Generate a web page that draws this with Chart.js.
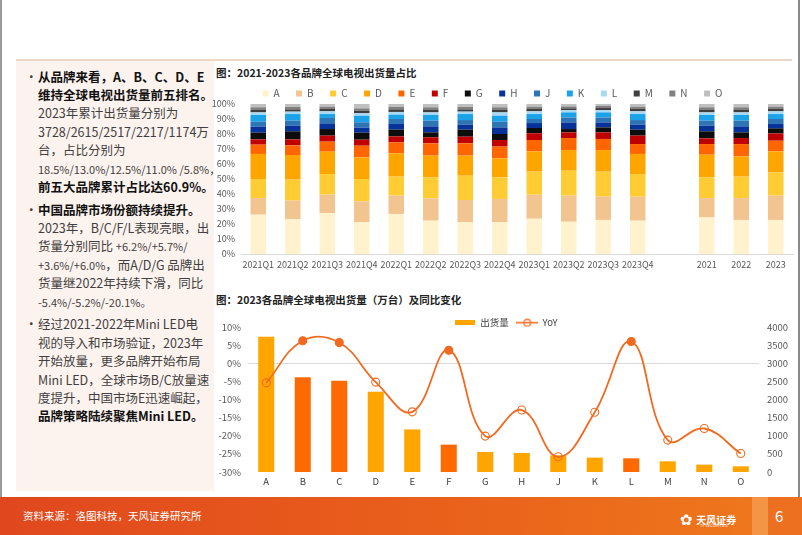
<!DOCTYPE html>
<html><head><meta charset="utf-8">
<script src="https://cdn.jsdelivr.net/npm/chart.js@4.4.1/dist/chart.umd.min.js"></script>
<style>
html,body{margin:0;padding:0;}
body{width:802px;height:535px;position:relative;overflow:hidden;background:#fff;font-family:"Noto Sans CJK SC","Noto Sans",sans-serif;}
.abs{position:absolute;}
#leftline{left:0;top:0;width:2px;height:497px;background:#9a9a9a;}
#rightline{left:798px;top:0;width:2px;height:497px;background:#8a8a8a;}
#topline{left:16px;top:59px;width:776px;height:2px;background:#EBD7C5;}
#panel{left:16px;top:61px;width:198px;height:430px;background:#FDF3EE;}
#text{left:26px;top:67.5px;width:190px;font-size:12.5px;line-height:18.4px;color:#404040;}
.item{position:relative;padding-left:12px;margin-bottom:4.3px;}
.item:before{content:"•";position:absolute;left:-1px;top:0;color:#404040;}
.ln{display:block;white-space:nowrap;}
.b{font-weight:bold;color:#111;}
.sm{font-size:11px;}
.title{font-size:10.5px;font-weight:bold;color:#222;white-space:nowrap;}
#t1{left:216px;top:65px;}
#t2{left:216px;top:292px;}
#c1wrap{left:212px;top:72px;width:588px;height:198px;}
#c2wrap{left:212px;top:310px;width:588px;height:178px;}
#footer{left:0;top:497px;width:802px;height:38px;background:linear-gradient(90deg,#E0471E 0%,#E9601B 55%,#EF7A1C 100%);}
#fblock{left:752px;top:497px;width:16px;height:38px;background:#F39545;}
#fblock2{left:768px;top:497px;width:34px;height:38px;background:#EC7020;}
#source{left:23px;top:508px;font-size:10.5px;color:#fff;white-space:nowrap;}
#logo{left:680px;top:505px;color:#fff;white-space:nowrap;}
#logo .f{font-size:15px;font-family:"DejaVu Sans";vertical-align:middle;}
#logo .n{font-size:10px;font-weight:bold;vertical-align:middle;}
#logo .s{position:absolute;left:20px;top:17px;font-size:4px;}
#page{left:775px;top:505px;color:#fff;font-size:15px;}
</style>
</head><body>
<div class="abs" id="leftline"></div>
<div class="abs" id="rightline"></div>
<div class="abs" id="topline"></div>
<div class="abs" id="panel"></div>
<div class="abs" id="text">
  <div class="item">
    <span class="ln b">从品牌来看，A、B、C、D、E</span>
    <span class="ln b">维持全球电视出货量前五排名。</span>
    <span class="ln">2023年累计出货量分别为</span>
    <span class="ln">3728/2615/2517/2217/1174万</span>
    <span class="ln">台，占比分别为</span>
    <span class="ln sm">18.5%/13.0%/12.5%/11.0% /5.8%，</span>
    <span class="ln b">前五大品牌累计占比达60.9%。</span>
  </div>
  <div class="item">
    <span class="ln b">中国品牌市场份额持续提升。</span>
    <span class="ln">2023年，B/C/F/L表现亮眼，出</span>
    <span class="ln">货量分别同比 <span class="sm">+6.2%/+5.7%/</span></span>
    <span class="ln"><span class="sm">+3.6%/+6.0%</span>，而A/D/G 品牌出</span>
    <span class="ln">货量继2022年持续下滑，同比</span>
    <span class="ln sm">-5.4%/-5.2%/-20.1%。</span>
  </div>
  <div class="item">
    <span class="ln">经过2021-2022年Mini LED电</span>
    <span class="ln">视的导入和市场验证，2023年</span>
    <span class="ln">开始放量，更多品牌开始布局</span>
    <span class="ln">Mini LED，全球市场B/C放量速</span>
    <span class="ln">度提升，中国市场E迅速崛起，</span>
    <span class="ln b">品牌策略陆续聚焦Mini LED。</span>
  </div>
</div>
<div class="abs title" id="t1">图：2021-2023各品牌全球电视出货量占比</div>
<div class="abs title" id="t2">图：2023各品牌全球电视出货量（万台）及同比变化</div>
<div class="abs" id="c1wrap"><canvas id="c1" width="588" height="198"></canvas></div>
<div class="abs" id="c2wrap"><canvas id="c2" width="588" height="178"></canvas></div>
<div class="abs" id="footer"></div>
<div class="abs" id="fblock"></div>
<div class="abs" id="fblock2"></div>
<div class="abs" id="source">资料来源：洛图科技，天风证券研究所</div>
<div class="abs" id="logo"><span class="f">✿</span> <span class="n">天风证券</span><span class="s">TF SECURITIES</span></div>
<div class="abs" id="page">6</div>
<script>
// ---------- Chart 1: brand shares (%) ----------
const periods = ['2021Q1','2021Q2','2021Q3','2021Q4','2022Q1','2022Q2','2022Q3','2022Q4','2023Q1','2023Q2','2023Q3','2023Q4','','2021','2022','2023'];
const shareBrands = ['A','B','C','D','E','F','G','H','J','K','L','M','N','O'];
const shareA = [26.2,23.3,27.3,21.3,26.7,22.2,21.1,21.1,23.5,21.5,22.7,22.2,null,24.4,22.7,22.7];
const shareB = [11.1,12.3,12.3,13.8,12.2,14.9,14.9,15.6,16.0,17.4,15.5,16.0,null,12.9,14.6,16.2];
const shareC = [12.7,14.0,13.7,14.9,12.7,14.0,16.2,14.4,15.4,16.6,16.7,15.1,null,13.8,14.3,15.5];
const shareD = [16.7,16.4,14.9,14.4,15.5,14.5,13.4,12.7,13.5,13.8,14.4,13.4,null,15.1,13.5,14.0];
const shareE = [6.2,6.4,6.7,7.8,7.3,8.2,8.2,7.8,7.6,8.0,7.4,6.6,null,7.1,8.2,7.1];
const shareF = [3.5,4.0,4.0,4.0,4.0,4.0,4.4,4.4,4.5,3.8,4.4,5.6,null,3.8,4.0,4.9];
const shareG = [4.5,5.4,4.4,4.7,4.5,3.3,4.7,4.0,3.5,2.2,3.3,4.0,null,4.7,3.8,3.4];
const shareH = [4.0,3.8,3.8,3.3,3.8,4.0,3.3,4.4,3.3,4.4,3.3,3.3,null,3.8,4.0,2.9];
const shareJ = [3.3,3.3,3.6,3.6,3.3,3.8,3.1,3.8,2.7,3.3,3.3,3.1,null,3.3,3.8,3.3];
const shareK = [4.5,4.4,2.6,4.4,2.9,3.8,4.0,4.0,3.3,3.4,3.4,4.0,null,3.8,3.8,3.3];
const shareL = [1.7,1.6,1.8,1.6,1.8,1.7,1.6,2.2,1.8,1.6,1.6,1.8,null,1.7,1.7,1.8];
const shareM = [1.6,1.5,1.6,1.8,1.7,1.6,1.5,1.6,1.6,1.1,1.3,1.6,null,1.6,1.6,1.6];
const shareN = [1.8,1.6,1.5,1.5,1.6,1.8,1.6,1.8,1.5,1.3,1.4,1.5,null,1.8,1.8,1.5];
const shareO = [2.2,2.0,1.8,2.9,2.0,2.2,2.0,2.2,1.8,1.6,1.3,1.8,null,2.2,2.2,1.8];
const shareColors = ['#FFF2CC','#F2C490','#FFCC33','#FFA500','#FF6600','#C00000','#0D0D0D','#07329A','#2E75B6','#1AA3E8','#A9D8F4','#3F3F3F','#808080','#BFBFBF'];
const shareYTicks = [0,10,20,30,40,50,60,70,80,90,100];

// ---------- Chart 2: 2023 shipments & YoY ----------
const brands2023 = ['A','B','C','D','E','F','G','H','J','K','L','M','N','O'];
const shipments = [3728,2615,2517,2217,1174,756,552,524,461,397,378,295,204,157];
const yoyPct = [-5.4,6.2,5.7,-5.2,-13.4,3.6,-20.1,-12.9,-25.8,-13.5,6.0,-21.2,-18.0,-24.9];
const chineseBrands = ['B','C','F','L'];

Chart.defaults.font.family = '"Noto Sans CJK SC","Noto Sans",sans-serif';
Chart.defaults.color = '#595959';

const shareSeries = [shareA,shareB,shareC,shareD,shareE,shareF,shareG,shareH,shareJ,shareK,shareL,shareM,shareN,shareO];

const shiftLegend = {
  id:'shiftLegend',
  afterLayout(chart, args, opts){ if (chart.legend && opts.dx) { chart.legend.left += opts.dx; } }
};

new Chart(document.getElementById('c1'), {
  type:'bar',
  data:{
    labels: periods,
    datasets: shareBrands.map((b,i)=>({label:b, data:shareSeries[i], backgroundColor:shareColors[i], borderWidth:0, barPercentage:0.45, categoryPercentage:1}))
  },
  options:{
    responsive:false, animation:false,
    layout:{padding:{left:0,right:7,top:0,bottom:0}},
    plugins:{
      legend:{position:'top', maxHeight:32, labels:{boxWidth:6, boxHeight:6, padding:16.5, font:{size:10}, color:'#595959'}},
      tooltip:{enabled:false},
      shiftLegend:{dx:-20}
    },
    scales:{
      x:{stacked:true, grid:{display:false, drawTicks:false}, border:{display:true, color:'#D9D9D9'},
         ticks:{font:{size:9}, color:'#595959', maxRotation:0, autoSkip:false, padding:5},
         afterFit:s=>{s.height=16;}},
      y:{stacked:true, min:0, max:100, grid:{display:false, drawTicks:false}, border:{display:false},
         afterBuildTicks:s=>{s.ticks=shareYTicks.map(v=>({value:v}));},
         ticks:{font:{size:9}, color:'#595959', padding:6, callback:v=>v+'%'},
         afterFit:s=>{s.width=29;}}
    }
  },
  plugins:[shiftLegend]
});

// legend icons
function makeRectIcon(){
  const c=document.createElement('canvas'); c.width=20; c.height=5;
  const g=c.getContext('2d'); g.fillStyle='#FFA500'; g.fillRect(0,0,20,5); return c;
}
function makeLineIcon(){
  const c=document.createElement('canvas'); c.width=22; c.height=9;
  const g=c.getContext('2d'); g.strokeStyle='#F26A1F'; g.lineWidth=1.6;
  g.beginPath(); g.moveTo(0,4.5); g.lineTo(22,4.5); g.stroke();
  g.beginPath(); g.arc(11,4.5,3.4,0,Math.PI*2); g.lineWidth=1.1; g.stroke(); return c;
}
const rectIcon = makeRectIcon(), lineIcon = makeLineIcon();

new Chart(document.getElementById('c2'), {
  data:{
    labels: brands2023,
    datasets:[
      {type:'line', label:'YoY', data:yoyPct, yAxisID:'y', borderColor:'#F26A1F', borderWidth:1.8, tension:0.42,
       pointRadius:4, pointBorderWidth:1.1, pointBorderColor:'#F26A1F',
       pointBackgroundColor: yoyPct.map(v=>v>0?'#F26A1F':'rgba(255,255,255,0)'), order:0},
      {type:'bar', label:'出货量', data:shipments, yAxisID:'y1',
       backgroundColor: brands2023.map(b=>chineseBrands.includes(b)?'#FF6A00':'#FFA500'),
       borderWidth:0, barPercentage:0.44, categoryPercentage:1, order:1}
    ]
  },
  options:{
    responsive:false, animation:false,
    layout:{padding:{left:0,right:0,top:0,bottom:0}},
    plugins:{
      tooltip:{enabled:false},
      legend:{position:'top', maxHeight:17, labels:{usePointStyle:true, pointStyleWidth:21, padding:8, font:{size:9.5}, color:'#404040',
        generateLabels:()=>[
          {text:'出货量', pointStyle:rectIcon, fillStyle:'#FFA500', strokeStyle:'#FFA500', lineWidth:0, hidden:false, datasetIndex:1, fontColor:'#404040'},
          {text:'YoY', pointStyle:lineIcon, fillStyle:'#F26A1F', strokeStyle:'#F26A1F', lineWidth:0, hidden:false, datasetIndex:0, fontColor:'#404040'}
        ]}}
    },
    scales:{
      x:{grid:{display:false, drawTicks:false}, border:{display:false}, ticks:{font:{size:9.5}, color:'#404040', padding:4}, afterFit:s=>{s.height=16;}},
      y:{position:'left', min:-30, max:10, border:{display:false},
         grid:{drawTicks:false, color:c=> (c.tick && c.tick.value===0) ? '#D9D9D9' : 'rgba(0,0,0,0)'},
         ticks:{stepSize:5, font:{size:9.5}, color:'#595959', padding:7, callback:v=>v+'%'},
         afterFit:s=>{s.width=36;}},
      y1:{position:'right', min:0, max:4000, border:{display:false}, grid:{display:false, drawTicks:false},
         ticks:{stepSize:500, font:{size:9.5}, color:'#595959', padding:8, callback:v=>String(v)},
         afterFit:s=>{s.width=41;}}
    }
  }
});
</script>
</body></html>
